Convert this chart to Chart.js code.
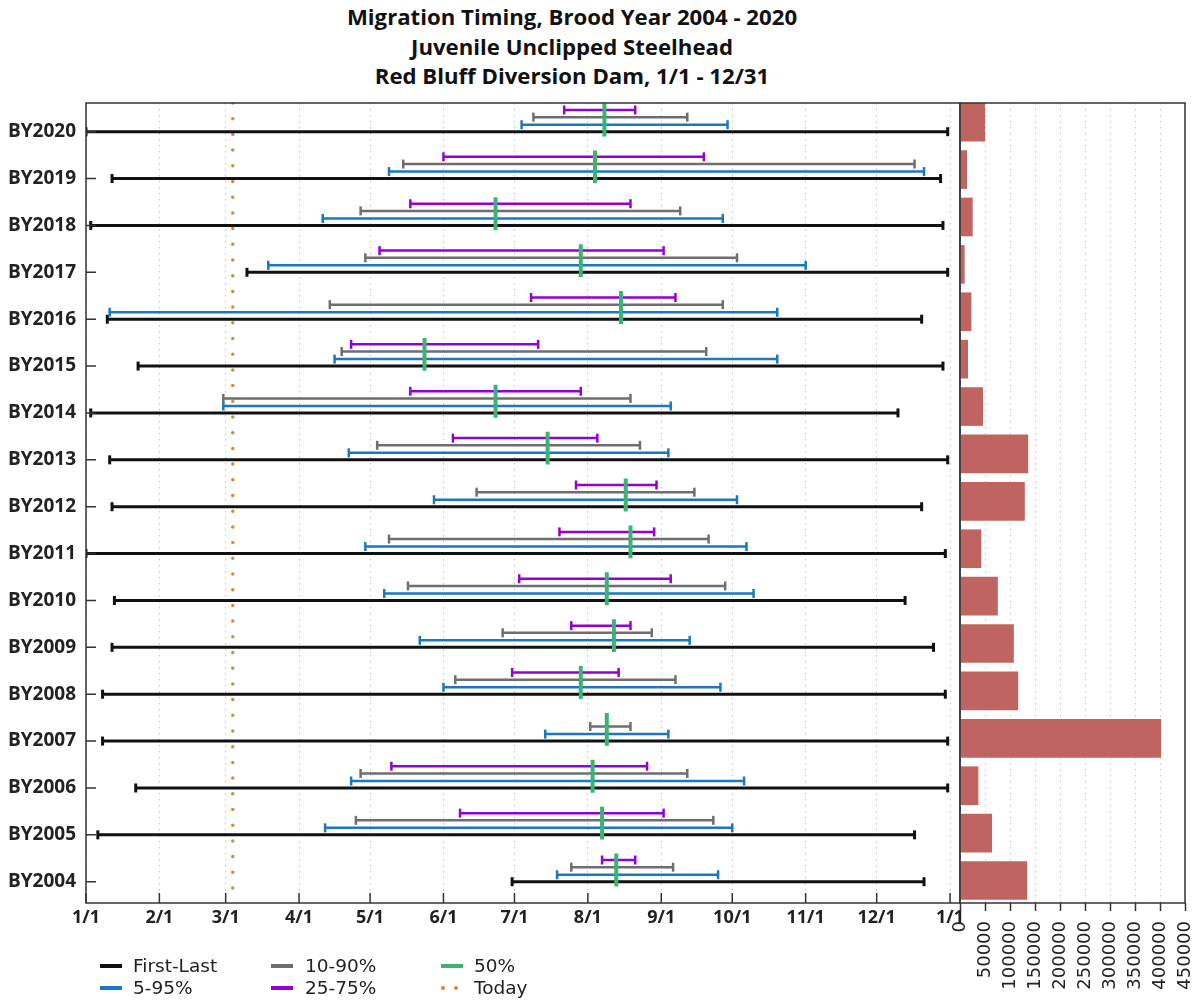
<!DOCTYPE html>
<html>
<head>
<meta charset="utf-8">
<script src="https://cdn.jsdelivr.net/npm/chart.js@4/dist/chart.umd.min.js"></script>
<style>
  html, body { margin: 0; padding: 0; background: #fff; }
  #wrap { position: relative; width: 1204px; height: 1002px; overflow: hidden; background: #fff; }
  #title { position: absolute; left: 222px; width: 700px; top: 2px; text-align: center;
           font: bold 22.2px 'Open Sans', sans-serif; line-height: 29.5px; color: #111; }
  #left { position: absolute; left: 0; top: 0; }
  #right { position: absolute; left: 940px; top: 0; }
  .lg { position: absolute; font: 18.5px 'DejaVu Sans', sans-serif; color: #222; line-height: 22px; white-space: nowrap; }
  .sw { position: absolute; width: 22px; height: 4px; }
  .dots { position: absolute; width: 22px; height: 4px; }
  .dots i { position: absolute; top: 0; width: 4px; height: 4px; border-radius: 50%; background: #e9822e; }
</style>
</head>
<body>
<div id="wrap">
  <div id="title">Migration Timing, Brood Year 2004 - 2020<br>Juvenile Unclipped Steelhead<br>Red Bluff Diversion Dam, 1/1 - 12/31</div>
  <canvas id="left" width="970" height="1002"></canvas>
  <canvas id="right" width="264" height="1002"></canvas>

  <div class="sw" style="left:100px;top:964px;background:#111;"></div>
  <div class="lg" style="left:133px;top:955px;">First-Last</div>
  <div class="sw" style="left:271px;top:964px;background:#6e6e6e;"></div>
  <div class="lg" style="left:305px;top:955px;">10-90%</div>
  <div class="sw" style="left:441px;top:964px;background:#3cb371;"></div>
  <div class="lg" style="left:474px;top:955px;">50%</div>

  <div class="sw" style="left:100px;top:986px;background:#1878c0;"></div>
  <div class="lg" style="left:133px;top:977px;">5-95%</div>
  <div class="sw" style="left:271px;top:986px;background:#9400d3;"></div>
  <div class="lg" style="left:305px;top:977px;">25-75%</div>
  <div class="dots" style="left:441px;top:986px;"><i style="left:0"></i><i style="left:13px"></i></div>
  <div class="lg" style="left:474px;top:977px;">Today</div>
</div>
<script>
// brood years, top to bottom as drawn
const broodYears = ['BY2020', 'BY2019', 'BY2018', 'BY2017', 'BY2016', 'BY2015', 'BY2014', 'BY2013',
    'BY2012', 'BY2011', 'BY2010', 'BY2009', 'BY2008', 'BY2007', 'BY2006', 'BY2005', 'BY2004'];

// day of year (0 = Jan 1) for each range, same order as broodYears
const firstLast = [[0, 364], [11, 361], [2, 362], [68, 364], [9, 353], [22, 362], [2, 343], [10, 364],
    [11, 353], [0, 363], [12, 346], [11, 358], [7, 363], [7, 364], [21, 364], [5, 350], [180, 354]];
const pct5to95 = [[184, 271], [128, 354], [100, 269], [77, 304], [10, 292], [105, 292], [58, 247], [111, 246],
    [147, 275], [118, 279], [126, 282], [141, 255], [151, 268], [194, 246], [112, 278], [101, 273], [199, 267]];
const pct10to90 = [[189, 254], [134, 350], [116, 251], [118, 275], [103, 269], [108, 262], [58, 230], [123, 234],
    [165, 257], [128, 263], [136, 270], [176, 239], [156, 249], [213, 230], [116, 254], [114, 265], [205, 248]];
const pct25to75 = [[202, 232], [151, 261], [137, 230], [124, 244], [188, 249], [112, 191], [137, 209], [155, 216],
    [207, 241], [200, 240], [183, 247], [205, 230], [180, 225], null, [129, 237], [158, 244], [218, 232]];
const median = [219, 215, 173, 209, 226, 143, 173, 195, 228, 230, 220, 223, 209, 220, 214, 218, 224];
const today = 62;

// total passage per brood year
const totals = [49400, 13300, 24700, 8600, 22100, 15300, 45400, 135700, 129000, 42000, 75000, 107000,
    115700, 401600, 36100, 63500, 133700];

const monthTicks = [0, 31, 59, 90, 120, 151, 181, 212, 243, 273, 304, 334, 365];
const monthLabels = ['1/1', '2/1', '3/1', '4/1', '5/1', '6/1', '7/1', '8/1', '9/1', '10/1', '11/1', '12/1', '1/1'];

const n = broodYears.length;
const rowPos = i => n - 1 - i;   // BY2004 sits at 0, BY2020 at 16

function rangePoints(ranges, offset) {
    const pts = [];
    ranges.forEach(function(r, i) {
        if (!r) return;
        const y = rowPos(i) + offset;
        pts.push({x: r[0], y: y}, {x: r[1], y: y}, {x: r[1], y: null});
    });
    return pts;
}

function rangeSet(ranges, offset, color, width, cap) {
    return {
        data: rangePoints(ranges, offset),
        showLine: true,
        borderColor: color,
        borderWidth: width,
        pointStyle: 'line',
        rotation: 90,
        pointRadius: cap,
        pointBorderWidth: width,
        pointBorderColor: color,
        pointBackgroundColor: color,
        spanGaps: false
    };
}

const medianPoints = [];
median.forEach(function(m, i) {
    medianPoints.push({x: m, y: rowPos(i) - 0.1}, {x: m, y: rowPos(i) + 0.6}, {x: m, y: null});
});

const yMin = -0.454, yMax = 16.612;

// box + inward tick marks
const framePlugin = {
    id: 'frame',
    afterDraw(chart, args, opts) {
        const ctx = chart.ctx;
        const a = chart.chartArea;
        ctx.save();
        ctx.strokeStyle = '#333';
        ctx.lineWidth = 1.5;
        if (opts.innerTicks) {
            ctx.beginPath();
            chart.scales.x.ticks.forEach(function(t) {
                const px = chart.scales.x.getPixelForValue(t.value);
                ctx.moveTo(px, a.bottom);
                ctx.lineTo(px, a.bottom - 10);
            });
            chart.scales.y.ticks.forEach(function(t) {
                const py = chart.scales.y.getPixelForValue(t.value);
                ctx.moveTo(a.left, py);
                ctx.lineTo(a.left + 10, py);
            });
            ctx.stroke();
        }
        ctx.strokeRect(a.left, a.top, a.right - a.left, a.bottom - a.top);
        ctx.restore();
    }
};

function fixBottom(scale) {
    scale.height = 99;
    scale.paddingLeft = 0;
    scale.paddingRight = 0;
}

new Chart(document.getElementById('left'), {
    type: 'scatter',
    data: {
        datasets: [
            {
                data: medianPoints,
                showLine: true,
                borderColor: '#3cb371',
                borderWidth: 4,
                borderCapStyle: 'butt',
                pointRadius: 0,
                spanGaps: false
            },
            rangeSet(pct25to75, 0.463, '#9400d3', 2.5, 4.5),
            rangeSet(pct10to90, 0.31, '#6e6e6e', 2.5, 4.5),
            rangeSet(pct5to95, 0.149, '#1878c0', 2.5, 4.5),
            rangeSet(firstLast, 0, '#111111', 3, 4.5),
            {
                data: [{x: today, y: yMax}, {x: today, y: yMin}],
                showLine: true,
                borderColor: '#e9822e',
                borderWidth: 3.5,
                borderDash: [0, 15.7],
                borderCapStyle: 'round',
                pointRadius: 0
            }
        ]
    },
    options: {
        responsive: false,
        animation: false,
        layout: {padding: {left: 0, top: 103, right: 10, bottom: 0}},
        plugins: {legend: {display: false}, tooltip: {enabled: false}, frame: {innerTicks: true}},
        scales: {
            x: {
                type: 'linear',
                min: 0,
                max: 369.2,
                afterBuildTicks: function(scale) {
                    scale.ticks = monthTicks.map(v => ({value: v}));
                },
                afterFit: fixBottom,
                ticks: {
                    autoSkip: false,
                    maxRotation: 0,
                    padding: 4,
                    color: '#222',
                    font: {family: 'Open Sans', size: 18, weight: 'bold'},
                    callback: function(value, index) { return monthLabels[index]; }
                },
                grid: {color: '#c4c4c4', lineWidth: 1, drawTicks: false},
                border: {display: false, dash: [1.5, 4.5]}
            },
            y: {
                type: 'linear',
                min: yMin,
                max: yMax,
                afterBuildTicks: function(scale) {
                    scale.ticks = broodYears.map((_, i) => ({value: i}));
                },
                afterFit: function(scale) { scale.width = 86; },
                ticks: {
                    autoSkip: false,
                    padding: 10,
                    color: '#222',
                    font: {family: 'Open Sans', size: 19, weight: 'bold'},
                    callback: function(value) { return broodYears[n - 1 - value]; }
                },
                grid: {display: false, drawTicks: false},
                border: {display: false}
            }
        }
    },
    plugins: [framePlugin]
});

// right panel: totals as horizontal bars
const barMin = -0.475, barMax = 16.405;
new Chart(document.getElementById('right'), {
    type: 'bar',
    data: {
        datasets: [{
            data: totals.map((v, i) => ({x: v, y: rowPos(i)})),
            backgroundColor: '#bf6461',
            borderWidth: 0,
            barThickness: 38
        }]
    },
    options: {
        indexAxis: 'y',
        responsive: false,
        animation: false,
        layout: {padding: {left: 20, top: 103, right: 19, bottom: 0}},
        plugins: {legend: {display: false}, tooltip: {enabled: false}, frame: {innerTicks: false}},
        scales: {
            x: {
                type: 'linear',
                min: 0,
                max: 450000,
                z: 1,
                afterFit: fixBottom,
                ticks: {
                    stepSize: 50000,
                    autoSkip: false,
                    minRotation: 90,
                    maxRotation: 90,
                    padding: 10,
                    color: '#222',
                    font: {family: 'DejaVu Sans', size: 18},
                    callback: function(value) { return String(value); }
                },
                grid: {color: '#c4c4c4', lineWidth: 1, drawTicks: true, tickLength: 8, tickColor: '#333', tickWidth: 1.5},
                border: {display: false, dash: [1.5, 4.5]}
            },
            y: {
                type: 'linear',
                display: false,
                offset: false,
                min: barMin,
                max: barMax
            }
        }
    },
    plugins: [framePlugin]
});
</script>
</body>
</html>
